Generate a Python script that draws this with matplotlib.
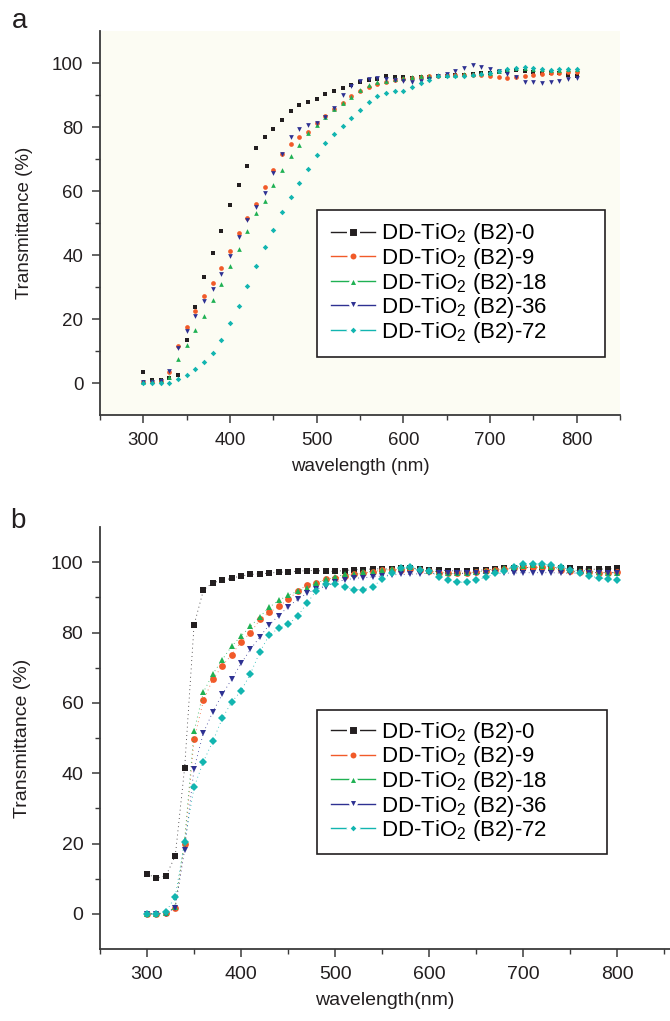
import matplotlib
matplotlib.use("Agg")
import matplotlib.pyplot as plt
from matplotlib.ticker import FixedLocator
from matplotlib.lines import Line2D
from matplotlib.patches import Rectangle

plt.rcParams['font.family'] = ['Liberation Sans', 'DejaVu Sans']
plt.rcParams['mathtext.fontset'] = 'custom'
plt.rcParams['mathtext.rm'] = 'Liberation Sans'

wavelength = list(range(300, 801, 10))

labels = ["DD-TiO$_2$ (B2)-0", "DD-TiO$_2$ (B2)-9", "DD-TiO$_2$ (B2)-18",
          "DD-TiO$_2$ (B2)-36", "DD-TiO$_2$ (B2)-72"]

# panel a
a_b0 = [3.3, 1.0, 0.8, 1.5, 2.6, 13.4, 23.6, 33.0, 40.5, 47.6, 55.5, 61.8, 67.8, 73.4, 76.9,
        79.3, 82.3, 85.1, 87.0, 87.9, 88.8, 90.3, 91.3, 92.3, 93.2, 94.0, 94.6, 95.1, 95.8,
        95.7, 95.5, 95.3, 95.5, 95.6, 95.8, 96.0, 96.2, 96.4, 96.6, 96.8, 97.0, 97.3, 97.6,
        97.8, 97.6, 97.2, 97.0, 96.8, 96.8, 96.1, 96.0]
a_b9 = [0.3, 0.3, 0.5, 3.5, 11.6, 17.6, 22.4, 27.2, 31.3, 35.9, 41.3, 46.8, 51.5, 55.9, 61.1,
        66.6, 71.6, 74.7, 76.8, 78.5, 81.1, 83.4, 85.5, 87.5, 89.8, 91.2, 92.5, 93.3, 94.0,
        94.6, 95.0, 95.3, 95.6, 95.8, 96.0, 96.1, 96.2, 96.3, 96.3, 96.2, 96.0, 95.6, 95.3,
        95.5, 95.8, 96.2, 96.6, 96.8, 97.0, 97.2, 97.3]
a_b18 = [0.3, 0.5, 1.0, 2.0, 7.5, 12.0, 16.5, 21.0, 26.0, 31.0, 36.5, 42.0, 47.5, 53.0, 57.0,
         62.0, 66.5, 71.0, 74.5, 78.0, 80.5, 83.0, 85.5, 87.5, 89.5, 91.5, 93.0, 94.0, 94.5,
         95.0, 95.3, 95.5, 95.8, 96.0, 96.2, 96.2, 96.3, 96.5, 96.6, 96.8, 97.0, 97.5, 98.0,
         98.3, 98.5, 98.2, 98.0, 97.8, 97.8, 98.0, 98.2]
a_b36 = [0.3, 0.3, 0.5, 3.8, 10.8, 16.3, 20.9, 25.7, 29.3, 34.0, 39.7, 45.5, 50.9, 55.1, 59.5,
         65.5, 71.6, 76.8, 79.5, 80.5, 81.3, 83.2, 85.8, 90.0, 92.8, 94.5, 95.0, 95.3, 95.0,
         94.8, 94.5, 94.2, 94.3, 95.0, 95.8, 96.5, 97.5, 98.5, 99.3, 98.8, 98.2, 97.5, 96.5,
         95.5, 94.2, 94.0, 93.8, 94.0, 94.5, 95.0, 95.2]
a_b72 = [0.1, 0.1, 0.1, 0.1, 1.2, 2.4, 4.3, 6.7, 9.4, 13.5, 18.7, 24.1, 30.3, 36.7, 42.6,
         47.7, 53.4, 58.2, 62.6, 66.9, 71.2, 75.1, 77.8, 80.3, 82.8, 85.3, 87.7, 89.7, 90.7,
         91.2, 91.4, 92.6, 93.6, 94.7, 95.9, 96.0, 96.0, 96.0, 96.2, 96.5, 97.0, 97.6, 98.0,
         98.3, 98.6, 98.3, 98.0, 97.9, 98.0, 98.2, 98.2]

# panel b
b_b0 = [11.3, 10.2, 10.8, 16.4, 41.6, 82.1, 92.1, 94.2, 94.8, 95.4, 96.1, 96.5, 96.7, 96.9,
        97.1, 97.3, 97.4, 97.6, 97.6, 97.4, 97.4, 97.6, 97.9, 97.9, 98.1, 98.1, 98.1, 98.2,
        98.2, 98.0, 97.8, 97.8, 97.6, 97.5, 97.5, 97.7, 97.8, 98.0, 98.2, 98.3, 98.4, 98.5,
        98.5, 98.4, 98.3, 98.2, 98.1, 98.0, 98.0, 98.1, 98.2]
b_b9 = [0.0, 0.0, 0.3, 1.8, 20.0, 49.7, 60.7, 66.7, 70.5, 73.7, 77.4, 79.9, 83.7, 85.7, 87.4,
        89.4, 91.7, 93.5, 94.2, 95.2, 95.4, 96.0, 96.5, 96.8, 97.3, 97.7, 97.9, 97.8, 98.0,
        97.8, 97.5, 97.0, 96.8, 96.8, 97.0, 97.2, 97.5, 97.9, 98.0, 98.2, 98.5, 98.6, 98.5,
        98.2, 97.8, 97.5, 97.3, 97.2, 97.0, 97.0, 97.2]
b_b18 = [0.0, 0.0, 0.3, 2.0, 21.0, 52.0, 63.1, 68.2, 72.3, 76.1, 79.0, 81.8, 84.5, 87.2, 89.1,
         90.6, 91.7, 92.7, 94.0, 95.1, 95.8, 96.5, 96.5, 97.2, 97.3, 97.7, 98.0, 98.3, 98.5,
         98.0, 97.6, 97.2, 96.8, 96.8, 97.0, 97.2, 97.5, 97.8, 98.2, 98.6, 99.0, 99.2, 99.0,
         98.7, 98.2, 97.8, 97.6, 97.5, 97.2, 97.0, 97.0]
b_b36 = [0.0, 0.0, 0.0, 1.8, 18.2, 41.3, 51.5, 57.5, 62.4, 66.7, 71.2, 75.2, 78.8, 82.2, 84.8,
         87.3, 89.4, 91.1, 92.5, 93.0, 94.4, 94.9, 95.4, 95.6, 95.8, 96.1, 96.4, 96.5, 96.6,
         96.7, 96.8, 96.8, 96.8, 96.8, 96.8, 96.8, 96.8, 96.8, 96.9, 96.9, 97.0, 97.0, 97.0,
         97.0, 96.9, 96.9, 96.9, 97.0, 97.0, 97.0, 97.0]
b_b72 = [0.0, 0.0, 0.5, 4.9, 20.5, 36.0, 43.3, 49.1, 55.6, 60.2, 63.4, 68.3, 74.5, 79.3, 81.2,
         82.3, 84.6, 88.3, 91.9, 93.9, 93.9, 93.0, 92.2, 92.2, 93.0, 95.2, 96.8, 98.2, 98.5,
         97.9, 97.5, 95.9, 94.9, 94.3, 94.3, 94.9, 95.7, 96.8, 97.5, 98.7, 99.4, 99.6, 99.4,
         99.1, 98.5, 97.9, 96.8, 96.0, 95.6, 95.1, 94.8]

colors = ['#231f20', '#f15a29', '#1fb153', '#2e3192', '#12b5b0']
markers = ['s', 'o', '^', 'v', 'D']

fig = plt.figure(figsize=(6.7, 10.21), dpi=100)
ax1 = fig.add_axes([100/670, 1-415/1021, 520/670, 384/1021])
ax2 = fig.add_axes([100/670, 1-949/1021, 570/670, 422/1021])

ax1.set_facecolor('#fcfcf3')

series_a = [a_b0, a_b9, a_b18, a_b36, a_b72]
series_b = [b_b0, b_b9, b_b18, b_b36, b_b72]

for ys, c, m in zip(series_a, colors, markers):
    ms = 3.4 if m != 'D' else 2.8
    ax1.plot(wavelength, ys, linestyle='none', marker=m, color=c, ms=ms, mew=0)

for ys, c, m in zip(series_b, colors, markers):
    ms = 4.9 if m != 'D' else 4.1
    ax2.plot(wavelength, ys, linestyle=(0, (1, 4)), lw=0.6, marker=m, color=c,
             ms=ms, mew=0)


def style(ax, xmax, xlabel, fs):
    ax.set_xlim(250, xmax)
    ax.set_ylim(-10, 110)
    for s in ['top', 'right']:
        ax.spines[s].set_visible(False)
    for s in ['left', 'bottom']:
        ax.spines[s].set_linewidth(1.3)
        ax.spines[s].set_color('#3a3a3a')
    ax.set_xticks([300, 400, 500, 600, 700, 800])
    ax.set_yticks([0, 20, 40, 60, 80, 100])
    ax.xaxis.set_minor_locator(FixedLocator([250, 350, 450, 550, 650, 750, 850]))
    ax.yaxis.set_minor_locator(FixedLocator([10, 30, 50, 70, 90]))
    ax.tick_params(which='major', direction='out', length=6, width=1.1,
                   color='#3a3a3a', labelsize=fs, labelcolor='#231f20', pad=6)
    ax.tick_params(which='minor', direction='out', length=3.6, width=1.0, color='#3a3a3a')
    ax.set_ylabel('Transmittance (%)', fontsize=fs, color='#231f20', labelpad=14)
    ax.set_xlabel(xlabel, fontsize=fs, color='#231f20', labelpad=7)
    handles = [Line2D([], [], color=c, marker=m, lw=1.0,
                      ms=(6.5 if m != 'D' else 5.5), mec='white', mew=2.2)
               for c, m in zip(colors, markers)]
    return handles


h1 = style(ax1, 850, 'wavelength (nm)', 13.5)
h2 = style(ax2, 856, 'wavelength(nm)', 14)


def legend_box(ax, handles, box, anchor):
    x0, y0, x1, y1 = box
    ax.add_patch(Rectangle((x0, y0), x1 - x0, y1 - y0, transform=ax.transAxes,
                           facecolor='white', edgecolor='#231f20', lw=1.2,
                           zorder=4, clip_on=False))
    leg = ax.legend(handles, labels, loc='upper left', bbox_to_anchor=anchor,
                    fontsize=16, frameon=False, handlelength=2.0,
                    handletextpad=0.25, labelspacing=-0.02, borderpad=0,
                    numpoints=1, borderaxespad=0)
    leg.set_zorder(5)
    return leg


legend_box(ax1, h1, (0.417, 0.151, 0.971, 0.534), (0.444, 0.504))
legend_box(ax2, h2, (0.381, 0.225, 0.889, 0.566), (0.405, 0.543))

fig.text(12/670, 1-28/1021, 'a', fontsize=20, va='baseline', ha='left', color='#231f20')
fig.text(10/670, 1-528/1021, 'b', fontsize=20, va='baseline', ha='left', color='#231f20')

fig.savefig('out.png', dpi=100)
